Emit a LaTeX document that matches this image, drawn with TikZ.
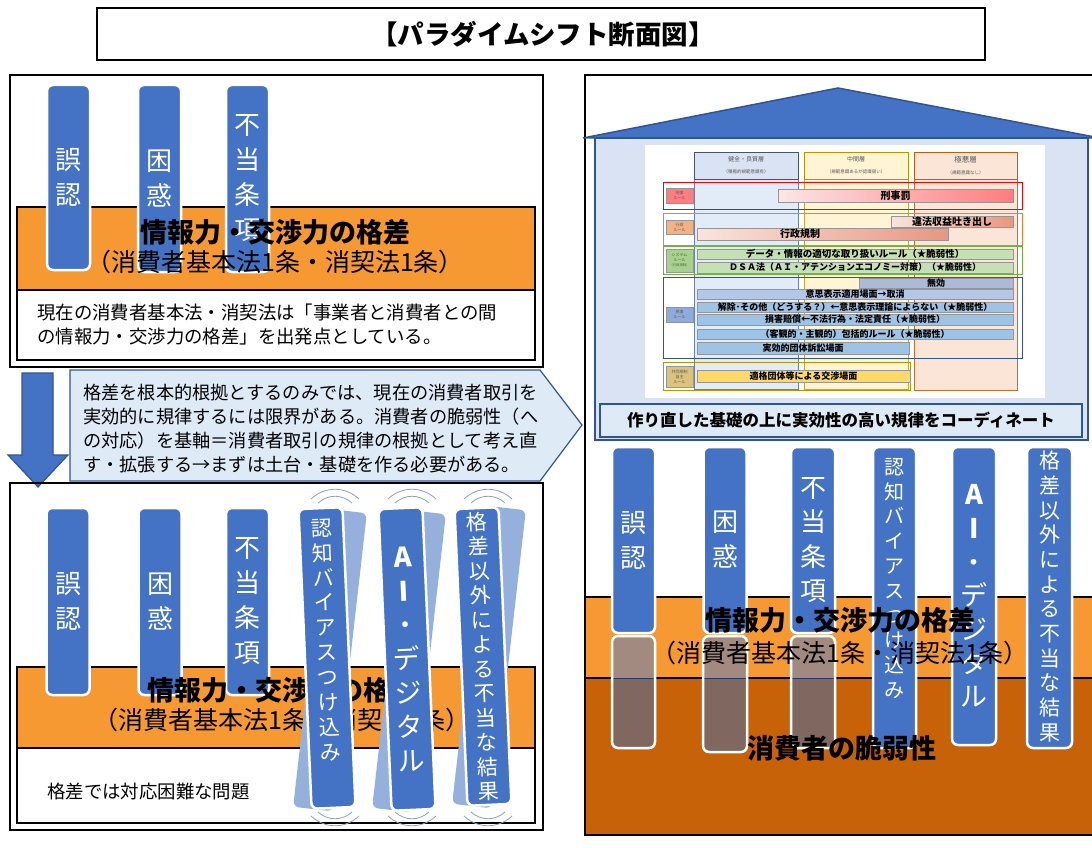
\documentclass[tikz,border=0pt]{standalone}
\usepackage{fontspec}
\setmainfont{Noto Sans CJK JP}
\definecolor{pblue}{RGB}{68,114,196}
\definecolor{pdark}{RGB}{47,85,151}
\definecolor{orng}{RGB}{247,153,50}
\definecolor{dorng}{RGB}{199,98,8}
\definecolor{lblue}{RGB}{218,227,243}
\definecolor{cfill}{RGB}{222,235,247}
\definecolor{shadowc}{RGB}{150,176,222}
\definecolor{brL}{RGB}{162,138,128}
\definecolor{brD}{RGB}{128,104,96}
\definecolor{arcc}{RGB}{140,160,195}
\definecolor{colbf}{RGB}{226,236,248}
\definecolor{colbd}{RGB}{110,130,160}
\definecolor{colyf}{RGB}{255,244,212}
\definecolor{colyd}{RGB}{200,165,60}
\definecolor{colpf}{RGB}{251,229,214}
\definecolor{colpd}{RGB}{197,110,50}
\definecolor{hdrb}{RGB}{68,84,106}
\definecolor{hdry}{RGB}{191,144,0}
\definecolor{hdrp}{RGB}{197,90,17}
\definecolor{frred}{RGB}{255,0,0}
\definecolor{frorg}{RGB}{237,125,49}
\definecolor{frgrn}{RGB}{112,173,71}
\definecolor{frnav}{RGB}{47,85,151}
\definecolor{frgold}{RGB}{191,144,0}
\definecolor{lbred}{RGB}{255,124,128}
\definecolor{lborg}{RGB}{244,177,131}
\definecolor{lbgrn}{RGB}{169,209,142}
\definecolor{lbblu}{RGB}{143,170,220}
\definecolor{lbgold}{RGB}{220,194,122}
\definecolor{pinkL}{RGB}{252,230,232}
\definecolor{salL}{RGB}{250,228,220}
\definecolor{salR}{RGB}{233,150,128}
\definecolor{grnb}{RGB}{197,224,180}
\definecolor{mukou}{RGB}{170,186,216}
\definecolor{blub}{RGB}{180,199,231}
\definecolor{blub2}{RGB}{157,195,230}
\definecolor{goldb}{RGB}{255,217,102}
\definecolor{bargray}{RGB}{150,150,150}
\definecolor{lbltext}{RGB}{90,90,90}
\begin{document}
\begin{tikzpicture}[x=1pt,y=-1pt,
  frame/.style={draw=black, line width=1.5pt},
  bandbox/.style={draw=black, line width=1.2pt, fill=orng},
  pillar/.style={draw=white, line width=2.5pt, fill=pblue, rounded corners=6pt, inner sep=0pt, minimum width=43pt, text=white, align=center, font=\fontsize{26}{35}\selectfont},
  tpillar/.style={draw=white, line width=2.5pt, fill=pblue, rounded corners=6pt, inner sep=0pt, minimum width=44pt},
  shadowp/.style={fill=shadowc, rounded corners=6pt, inner sep=0pt, minimum width=40pt, minimum height=300pt},
  vtext/.style={text=white, align=center, inner sep=0pt},
  bandtitle/.style={font=\bfseries\fontsize{27}{30}\selectfont, inner sep=0pt},
  bandsub/.style={font=\fontsize{25}{28}\selectfont, inner sep=0pt},
  body/.style={font=\fontsize{18.4}{24}\selectfont, align=left, inner sep=0pt},
  bluearrow/.style={fill=pblue, draw=pdark, line width=1.2pt},
  callout/.style={fill=cfill, draw=pdark, line width=1.2pt},
  arcs/.style={draw=arcc, line width=0.8pt},
  hdr/.style={line width=0.9pt, minimum width=104pt, minimum height=27pt, inner sep=0pt, align=center, text=lbltext},
  lbl/.style={draw=bargray, line width=0.5pt, minimum width=27pt, inner sep=0pt, align=center, text=lbltext, font=\fontsize{4}{5}\selectfont},
  bar/.style={draw=bargray, line width=0.5pt, inner sep=0pt, font=\bfseries\fontsize{9}{10}\selectfont},
  rowframe/.style={line width=1pt}
]
\useasboundingbox (0,0) rectangle (1092,848);
\clip (0,0) rectangle (1092,848);
\fill[white] (0,0) rectangle (1092,848);

% ---------- Title ----------
\draw[frame] (97,8) rectangle (985,60);
\node[font=\bfseries\fontsize{26.5}{29}\selectfont, inner sep=0pt] (title) at (543,34) {【パラダイムシフト断面図】};

% ---------- Top-left panel ----------
\draw[frame] (10,75) rectangle (543,367);
\draw[bandbox] (17,207) rectangle (535,290);
\draw[draw=black, line width=1.2pt, fill=white] (17,290) rectangle (535,360);
\node[pillar, minimum height=185pt] (a1) at (68.5,177.5) {誤\\認};
\node[pillar, minimum height=187pt] (a2) at (159.5,178.5) {困\\惑};
\node[pillar, minimum height=187pt] (a3) at (247.5,178.5) {不\\当\\条\\項};
\node[bandtitle] (at1) at (275,232) {情報力・交渉力の格差};
\node[bandsub] (at2) at (275,262) {（消費者基本法1条・消契法1条）};
\node[body, anchor=west] (abody) at (37,325) {現在の消費者基本法・消契法は「事業者と消費者との間\\の情報力・交渉力の格差」を出発点としている。};

% ---------- Arrows ----------
\draw[bluearrow] (22,373) -- (53,373) -- (53,455) -- (68,455) -- (38,487) -- (8,455) -- (22,455) -- cycle;
\draw[callout] (70,370) -- (540,370) -- (582,425) -- (540,481) -- (70,481) -- cycle;
\node[body, anchor=west, font=\fontsize{18.2}{24}\selectfont] (ctext) at (83,429) {格差を根本的根拠とするのみでは、現在の消費者取引を\\実効的に規律するには限界がある。消費者の脆弱性（へ\\の対応）を基軸＝消費者取引の規律の根拠として考え直\\す・拡張する→まずは土台・基礎を作る必要がある。};

% ---------- Bottom-left panel ----------
\draw[frame] (10,483) rectangle (543,830);
\draw[bandbox] (17,667) rectangle (535,748);
\draw[draw=black, line width=1.2pt, fill=white] (17,748) rectangle (535,823);
\node[pillar, minimum height=187pt] (b1) at (68,601.5) {誤\\認};
\node[pillar, minimum height=187pt] (b2) at (160,601.5) {困\\惑};
\node[pillar, minimum height=187pt] (b3) at (247.5,601.5) {不\\当\\条\\項};
\node[bandtitle] (bt1) at (282,690) {情報力・交渉力の格差};
\node[bandsub] (bt2) at (282,720) {（消費者基本法1条・消契法1条）};
\node[body, anchor=west] (bbody) at (47,792) {格差では対応困難な問題};

% tilted pillars with shadows
\node[shadowp, rotate=-6.5] (s1) at (330,660) {};
\node[shadowp, rotate=-6.5] (s2) at (409,661) {};
\node[shadowp, rotate=-6.5] (s3) at (489,657) {};
\node[tpillar, rotate=2.5, minimum height=300pt] (t1) at (327,658) {};
\node[tpillar, rotate=2.5, minimum height=302pt] (t2) at (407,659) {};
\node[tpillar, rotate=2.5, minimum height=297pt] (t3) at (483,656.5) {};
\node[vtext, rotate=2.5, yshift=18pt, font=\fontsize{21}{24.9}\selectfont] (t1t) at (t1.center) {認\\知\\バ\\イ\\ア\\ス\\つ\\け\\込\\み};
\node[vtext, rotate=2.5, font=\fontsize{27}{34}\selectfont] (t2t) at (t2.center) {\bfseries A\\\bfseries I\\・\\デ\\ジ\\タ\\ル};
\node[vtext, rotate=2.5, font=\fontsize{21}{24.5}\selectfont] (t3t) at (t3.center) {格\\差\\以\\外\\に\\よ\\る\\不\\当\\な\\結\\果};
\foreach \cx in {335,412,488}{
  \draw[arcs] ({\cx-24},499) .. controls ({\cx-10},486) and ({\cx+10},486) .. ({\cx+24},499);
  \draw[arcs] ({\cx-17},503) .. controls ({\cx-7},494) and ({\cx+7},494) .. ({\cx+17},503);
  \draw[arcs] ({\cx-24},816) .. controls ({\cx-10},829) and ({\cx+10},829) .. ({\cx+24},816);
  \draw[arcs] ({\cx-17},812) .. controls ({\cx-7},821) and ({\cx+7},821) .. ({\cx+17},812);
}

% ---------- Right panel ----------
\draw[frame] (585,75) rectangle (1100,835);
\draw[fill=pblue, draw=pdark, line width=1.5pt] (583,138) -- (838,88) -- (1100,138) -- cycle;
\draw[fill=lblue, draw=pdark, line width=1.2pt] (595,138) rectangle (1088,440);

% table
\fill[white] (645,145) rectangle (1045,398);
\draw[fill=colbf, draw=colbd, line width=0.6pt] (694,152) rectangle (798,389);
\draw[fill=colyf, draw=colyd, line width=0.6pt] (804,152) rectangle (908,389);
\draw[fill=colpf, draw=colpd, line width=0.6pt] (914,152) rectangle (1017,390);
\node[hdr, draw=hdrb, fill=lblue] (h1) at (746,165.5) {\fontsize{6}{8}\selectfont 健全・良質層\\\fontsize{4.5}{6}\selectfont （積極的規範意識有）};
\node[hdr, draw=hdry, fill=colyf] (h2) at (856,165.5) {\fontsize{6}{8}\selectfont 中間層\\\fontsize{4.5}{6}\selectfont （規範意識あるが認識弱い）};
\node[hdr, draw=hdrp, fill=colpf, minimum width=103pt] (h3) at (965.5,165.5) {\fontsize{7.5}{9}\selectfont 極悪層\\\fontsize{4.5}{6}\selectfont （規範意識なし）};

\draw[rowframe, draw=frred] (663,182) rectangle (1022,209);
\draw[rowframe, draw=frorg] (663,213) rectangle (1022,245);
\draw[rowframe, draw=frgrn] (663,246.5) rectangle (1022,274.5);
\draw[rowframe, draw=frnav] (663,277) rectangle (1022,358);
\draw[rowframe, draw=frgold] (663,362) rectangle (910,390);

\node[lbl, fill=lbred, minimum height=15pt] (l1) at (679.5,195.5) {刑事\\ルール};
\node[lbl, fill=lborg, minimum height=14pt] (l2) at (679.5,227) {行政\\ルール};
\node[lbl, fill=lbgrn, minimum height=23pt] (l3) at (679.5,260.5) {システム\\ルール\\\fontsize{3.3}{4}\selectfont （行政規制）};
\node[lbl, fill=lbblu, minimum height=15pt] (l4) at (679.5,314.5) {民事\\ルール};
\node[lbl, fill=lbgold, minimum height=21pt] (l5) at (679.5,376.5) {共同規制\\自主\\ルール};

\node[bar, left color=pinkL, right color=lbred, minimum width=235pt, minimum height=13pt, font=\bfseries\fontsize{10}{11}\selectfont] (r1) at (895.5,195.5) {刑事罰};
\node[bar, left color=salL, right color=salR, minimum width=122pt, minimum height=11pt, font=\bfseries\fontsize{10}{11}\selectfont] (r2) at (952,221.5) {違法収益吐き出し};
\node[bar, left color=salL, right color=salR, minimum width=251pt, minimum height=12pt, font=\bfseries\fontsize{10}{11}\selectfont] (r3) at (822.5,234) {\hspace*{-45pt}行政規制};
\node[bar, fill=grnb, minimum width=316pt, minimum height=10pt, font=\bfseries\fontsize{9.5}{10}\selectfont] (r4) at (855,254) {データ・情報の適切な取り扱いルール（★脆弱性）};
\node[bar, fill=grnb, minimum width=316pt, minimum height=11pt] (r5) at (855,267.5) {ＤＳＡ法（ＡＩ・アテンションエコノミー対策）（★脆弱性）};
\node[bar, fill=mukou, minimum width=154pt, minimum height=10pt] (r6) at (936,283) {無効};
\node[bar, fill=blub, minimum width=316pt, minimum height=10pt] (r7) at (855,294) {意思表示適用場面→取消};
\node[bar, fill=blub2, minimum width=316pt, minimum height=10pt] (r8) at (855,307) {解除･その他（どうする？）←意思表示理論によらない（★脆弱性）};
\node[bar, fill=blub2, minimum width=316pt, minimum height=11pt] (r9) at (855,319.5) {損害賠償←不法行為・法定責任（★脆弱性）};
\node[bar, fill=blub2, minimum width=316pt, minimum height=10pt] (r10) at (855,334) {（客観的・主観的）包括的ルール（★脆弱性）};
\node[bar, fill=blub2, minimum width=212pt, minimum height=12pt] (r11) at (803,348) {実効的団体訴訟場面};
\node[bar, fill=goldb, minimum width=213pt, minimum height=12pt] (r12) at (803.5,376) {適格団体等による交渉場面};

% caption
\node[draw=pdark, line width=1.2pt, fill=cfill, minimum width=482pt, minimum height=33pt, inner sep=0pt, font=\bfseries\fontsize{16.5}{18}\selectfont] (cap) at (841,420.5) {作り直した基礎の上に実効性の高い規律をコーディネート};

% bands
\draw[draw=black, line width=1.2pt, fill=orng] (585,597) rectangle (1100,678);
\draw[draw=black, line width=1.2pt, fill=dorng] (585,678) rectangle (1100,835);

% lower pillar segments
\foreach \xa/\xb/\yb in {612/655/748, 703/747/752, 791/835/748}{
  \fill[brD, rounded corners=6pt] (\xa,636) rectangle (\xb,\yb);
  \fill[brL] (\xa,636) rectangle (\xb,678);
  \draw[draw=pdark!70!black, line width=0.8pt] (\xa,678) -- (\xb,678);
  \draw[white, line width=2.5pt, rounded corners=6pt] (\xa,636) rectangle (\xb,\yb);
}
\node[pillar, minimum height=186pt] (c1) at (633.5,540) {誤\\認};
\node[pillar, minimum height=186pt] (c2) at (725,540) {困\\惑};
\node[pillar, minimum height=186pt, minimum width=44pt, font=\fontsize{26}{34.3}\selectfont] (c3) at (813,540) {不\\当\\条\\項};
\node[tpillar, minimum width=43pt, minimum height=301pt] (c4) at (894.5,597.5) {};
\node[tpillar, minimum height=298pt] (c5) at (974,596) {};
\node[tpillar, minimum width=45pt, minimum height=301pt] (c6) at (1049.5,597.5) {};
\node[vtext, yshift=19pt, font=\fontsize{20}{24.8}\selectfont] (c4t) at (c4.center) {認\\知\\バ\\イ\\ア\\ス\\つ\\け\\込\\み};
\node[vtext, font=\fontsize{27}{33.7}\selectfont] (c5t) at (c5.center) {\bfseries A\\\bfseries I\\・\\デ\\ジ\\タ\\ル};
\node[vtext, yshift=1pt, font=\fontsize{21}{24.7}\selectfont] (c6t) at (c6.center) {格\\差\\以\\外\\に\\よ\\る\\不\\当\\な\\結\\果};

\node[bandtitle] (ct1) at (840,620) {情報力・交渉力の格差};
\node[bandsub] (ct2) at (840,653) {（消費者基本法1条・消契法1条）};
\node[bandtitle] (ct3) at (842,748) {消費者の脆弱性};
\end{tikzpicture}
\end{document}
